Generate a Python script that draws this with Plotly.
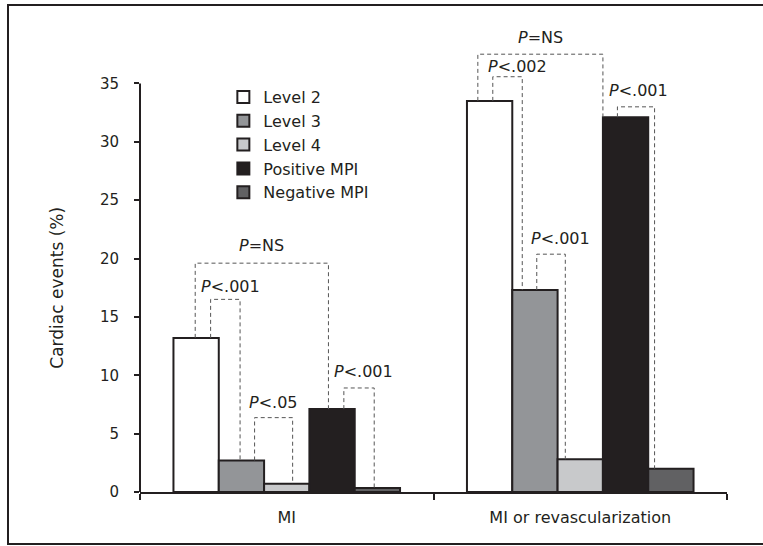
import plotly.graph_objects as go

# ---------------- data ----------------
categories = ["MI", "MI or revascularization"]
series_names = ["Level 2", "Level 3", "Level 4", "Positive MPI", "Negative MPI"]
level2 = [13.2, 33.5]
level3 = [2.7, 17.3]
level4 = [0.7, 2.8]
positive_mpi = [7.1, 32.1]
negative_mpi = [0.35, 2.0]
y_ticks = [0, 5, 10, 15, 20, 25, 30, 35]
p_labels = ["<i>P</i>=NS", "<i>P</i>&lt;.001", "<i>P</i>&lt;.05", "<i>P</i>&lt;.001",
            "<i>P</i>=NS", "<i>P</i>&lt;.002", "<i>P</i>&lt;.001", "<i>P</i>&lt;.001"]

series_values = [level2, level3, level4, positive_mpi, negative_mpi]

# ---------------- styles ----------------
INK = "#231f20"
colors = ["#ffffff", "#939598", "#c8c9cb", "#231f20", "#616163"]
FONT = "DejaVu Sans"
BARGAP = 0.228
NBARS = len(series_names)
BW = (1 - BARGAP) / NBARS  # bar width in category units

W, H = 763, 546
ML, MR, MT, MB = 140, 36, 25, 54
YMAX = 40

fig = go.Figure()
xs = list(range(len(categories)))
for name, vals, col in zip(series_names, series_values, colors):
    fig.add_trace(go.Bar(
        x=xs, y=vals, name=name,
        marker=dict(color=col, line=dict(color=INK, width=2)),
    ))


def bar_x(cat, idx, off):
    return cat + (idx - (NBARS - 1) / 2) * BW + off * BW


# bracket geometry: (category, left bar, left offset, right bar, right offset, top, label dx, label y)
brackets = [
    (0, 0, -0.02, 3, -0.08, 19.6, 0.0, 21.1),
    (0, 0, 0.32, 1, -0.03, 16.5, 0.11, 17.6),
    (0, 1, 0.29, 2, 0.13, 6.37, 0.0, 7.66),
    (0, 3, 0.26, 4, -0.07, 8.91, 0.10, 10.34),
    (1, 0, -0.26, 3, -0.50, 37.5, 0.0, 38.9),
    (1, 0, 0.07, 1, -0.28, 35.57, 0.21, 36.48),
    (1, 1, 0.04, 2, -0.33, 20.37, 0.22, 21.75),
    (1, 3, -0.18, 4, -0.36, 32.99, 0.06, 34.4),
]

shapes = []
annotations = []
for (cat, li, lo, ri, ro, top, ldx, ly), lab in zip(brackets, p_labels):
    x1 = bar_x(cat, li, lo)
    x2 = bar_x(cat, ri, ro)
    yb1 = series_values[li][cat]
    yb2 = series_values[ri][cat]
    shapes.append(dict(
        type="path", xref="x", yref="y",
        path=f"M {x1},{yb1} L {x1},{top} L {x2},{top} L {x2},{yb2}",
        line=dict(color="#555555", width=1, dash="4px,3px"),
        layer="above",
    ))
    annotations.append(dict(
        x=(x1 + x2) / 2 + ldx * BW, y=ly, xref="x", yref="y",
        text=lab, showarrow=False, xanchor="center", yanchor="middle",
        font=dict(family=FONT, size=16, color=INK),
    ))

# y axis line only from 0 to 35
shapes.append(dict(type="line", xref="paper", yref="y", x0=0, x1=0, y0=0, y1=35,
                   line=dict(color=INK, width=2), layer="above"))

# outer frame
pw = W - ML - MR
ph = H - MT - MB
shapes.append(dict(type="rect", xref="paper", yref="paper",
                   x0=(8 - ML) / pw, x1=(775 - ML) / pw,
                   y0=(H - MB - 544) / ph, y1=(H - MB - 5) / ph,
                   line=dict(color=INK, width=2), fillcolor="rgba(0,0,0,0)"))

# y-axis title
annotations.append(dict(
    x=(57 - ML) / pw, y=17.5, xref="paper", yref="y",
    text="Cardiac events (%)", textangle=-90, showarrow=False,
    xanchor="center", yanchor="middle",
    font=dict(family=FONT, size=17, color=INK),
))

fig.update_layout(
    width=W, height=H,
    margin=dict(l=ML, r=MR, t=MT, b=MB),
    plot_bgcolor="white", paper_bgcolor="white",
    barmode="group", bargap=BARGAP, bargroupgap=0,
    font=dict(family=FONT, size=15, color=INK),
    showlegend=True,
    legend=dict(x=0.142, y=0.882, xanchor="left", yanchor="top",
                font=dict(family=FONT, size=16, color=INK),
                bgcolor="rgba(0,0,0,0)", tracegroupgap=0, itemwidth=30),
    shapes=shapes,
    annotations=annotations,
)

fig.update_xaxes(
    range=[-0.5, 1.5],
    tickvals=xs, ticktext=categories,
    ticks="", showgrid=False, zeroline=False,
    showline=True, linecolor=INK, linewidth=2,
    tickfont=dict(family=FONT, size=16, color=INK),
    ticklabelstandoff=10,
    minor=dict(tickvals=[-0.5, 0.5, 1.5], ticks="outside", ticklen=6,
               tickwidth=2, tickcolor=INK, showgrid=False),
)
fig.update_yaxes(
    range=[0, YMAX],
    tickvals=y_ticks,
    ticks="outside", ticklen=5, tickwidth=2, tickcolor=INK,
    showgrid=False, zeroline=False, showline=False,
    tickfont=dict(family=FONT, size=15, color=INK),
    ticklabelstandoff=12,
)

fig.write_html("out.html",
               config={"displayModeBar": False},
               post_script="document.body.style.margin='0';document.body.style.overflow='hidden';")
